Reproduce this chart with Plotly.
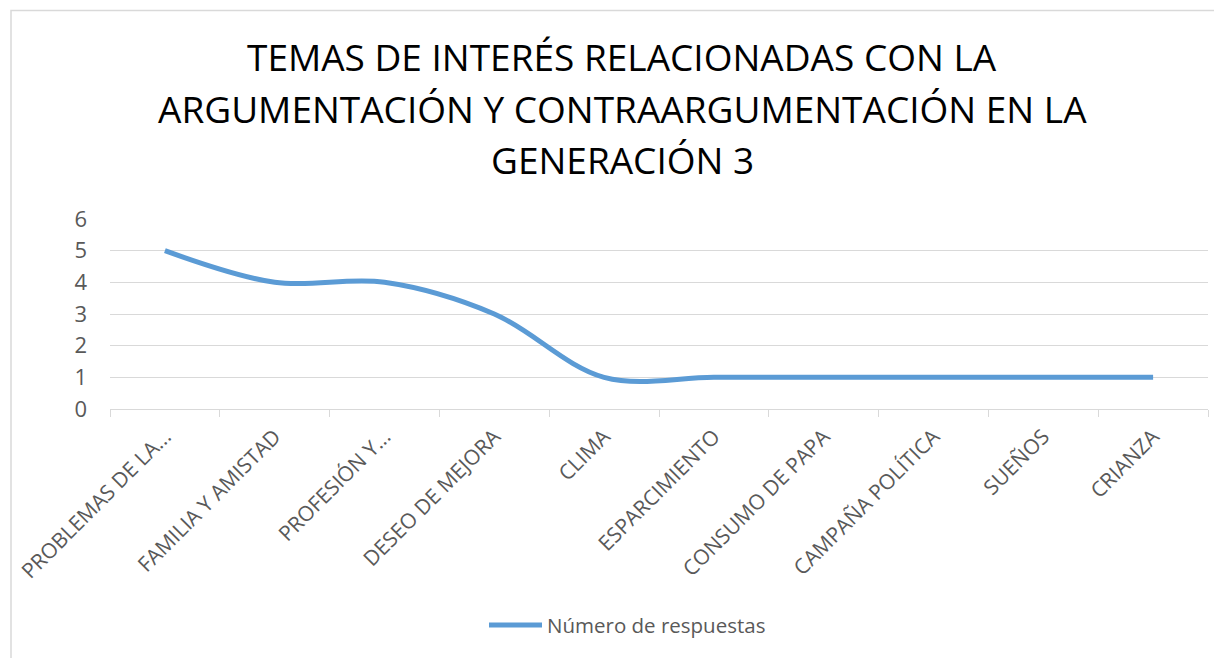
import plotly.graph_objects as go

# Chart data
categorias = ["PROBLEMAS DE LA...", "FAMILIA Y AMISTAD", "PROFESIÓN Y...", "DESEO DE MEJORA",
              "CLIMA", "ESPARCIMIENTO", "CONSUMO DE PAPA", "CAMPAÑA POLÍTICA", "SUEÑOS", "CRIANZA"]
respuestas = [5, 4, 4, 3, 1, 1, 1, 1, 1, 1]
serie = "Número de respuestas"
titulo = ["TEMAS DE INTERÉS RELACIONADAS CON LA",
          "ARGUMENTACIÓN Y CONTRAARGUMENTACIÓN EN LA",
          "GENERACIÓN 3"]
y_ticks = [0, 1, 2, 3, 4, 5, 6]

# Page is 1222x658, but the browser puts the figure 8px in from the top-left corner
W, H = 1222, 658
OFF = 8
# plot area in page pixels
L, R, T, B = 110, 1208, 219, 409


def px(x):
    return (x - L) / (R - L)


def py(y):
    return (B - y) / (B - T)


azul = "#5B9BD5"
gris = "#595959"
rejilla = "#D9D9D9"
fuente = "Open Sans"

fig = go.Figure()
fig.add_trace(go.Scatter(x=categorias, y=respuestas, name=serie, mode="lines",
                         line=dict(color=azul, width=5, shape="spline", smoothing=1),
                         showlegend=False))

# Title, one annotation per line
for linea, yc in zip(titulo, [56.5, 108.5, 159]):
    fig.add_annotation(text=linea, x=px(622), y=py(yc), xref="paper", yref="paper",
                       showarrow=False, xanchor="center", yanchor="middle",
                       font=dict(family=fuente, size=37, color="#000000"))

# Legend drawn by hand to match the long line sample
fig.add_shape(type="line", xref="paper", yref="paper", x0=px(489), x1=px(542), y0=py(625), y1=py(625),
              line=dict(color=azul, width=5))
fig.add_annotation(text=serie, x=px(545), y=py(624.5), xref="paper", yref="paper", showarrow=False,
                   xanchor="left", yanchor="middle", font=dict(family=fuente, size=20.5, color=gris))

# Chart border
fig.add_shape(type="rect", xref="paper", yref="paper", x0=px(11), x1=px(1240), y0=py(700), y1=py(10.5),
              line=dict(color=rejilla, width=1.5), layer="below")

fig.update_layout(
    width=W - OFF, height=H - OFF,
    margin=dict(l=L - OFF, r=W - R, t=T - OFF, b=H - B),
    paper_bgcolor="white", plot_bgcolor="white",
    font=dict(family=fuente, color=gris),
    xaxis=dict(type="category", tickangle=-45, tickson="boundaries", ticks="outside", ticklen=7,
               tickcolor=rejilla, showline=True, linecolor=rejilla, linewidth=1, showgrid=False,
               ticklabelstandoff=6, automargin=False,
               tickfont=dict(size=21, color=gris), range=[-0.5, len(categorias) - 0.5]),
    yaxis=dict(range=[0, 6], tickvals=y_ticks, showgrid=True, gridcolor=rejilla, gridwidth=1,
               zeroline=False, showline=False, ticks="", ticklabelstandoff=22, automargin=False,
               tickfont=dict(size=22, color=gris)),
)

fig.write_html("out.html")
